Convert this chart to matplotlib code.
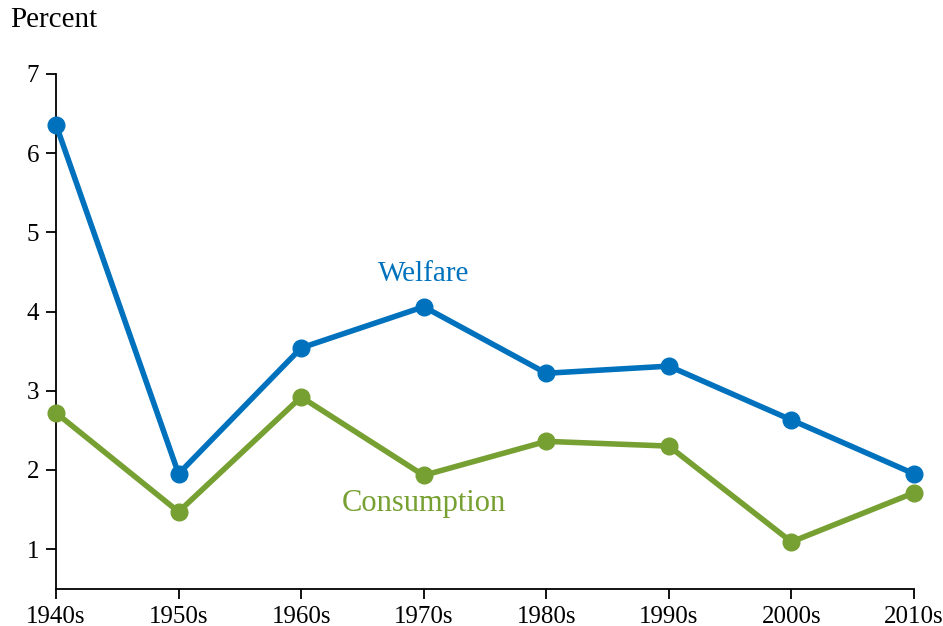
import matplotlib
matplotlib.use("Agg")
import matplotlib.pyplot as plt

decades = ["1940s", "1950s", "1960s", "1970s", "1980s", "1990s", "2000s", "2010s"]
welfare = [6.36, 1.95, 3.54, 4.06, 3.22, 3.31, 2.63, 1.95]
consumption = [2.72, 1.47, 2.92, 1.93, 2.36, 2.30, 1.09, 1.71]
yticks = [1, 2, 3, 4, 5, 6, 7]

plt.rcParams['font.family'] = ['Liberation Serif', 'DejaVu Serif']

blue = "#0072BD"
green = "#77A033"

fig = plt.figure(figsize=(9.43, 6.26), dpi=100)
ax = fig.add_axes([56/943, 1-589/626, (914-56)/943, (589-74)/626])

x = list(range(len(decades)))
ax.plot(x, welfare, color=blue, lw=4, marker='o', ms=12, clip_on=False, zorder=3)
ax.plot(x, consumption, color=green, lw=4, marker='o', ms=12, clip_on=False, zorder=3)

ax.set_xlim(0, 7)
ax.set_ylim(0.495, 7)
ax.set_xticks(x)
ax.set_xticklabels(decades)
ax.set_yticks(yticks)
ax.tick_params(axis='both', labelsize=18, length=7, width=1.3, direction='out', pad=5)
for s in ['top', 'right']:
    ax.spines[s].set_visible(False)
for s in ['left', 'bottom']:
    ax.spines[s].set_linewidth(1.3)
ax.spines['left'].set_bounds(0.495, 7)

ax.text(3, 4.47, "Welfare", color=blue, fontsize=21, ha='center', va='center')
ax.text(3, 1.58, "Consumption", color=green, fontsize=22, ha='center', va='center')

fig.text(10/943, 1-20/626, "Percent", fontsize=21, ha='left', va='center')

fig.savefig("out.png", dpi=100)
